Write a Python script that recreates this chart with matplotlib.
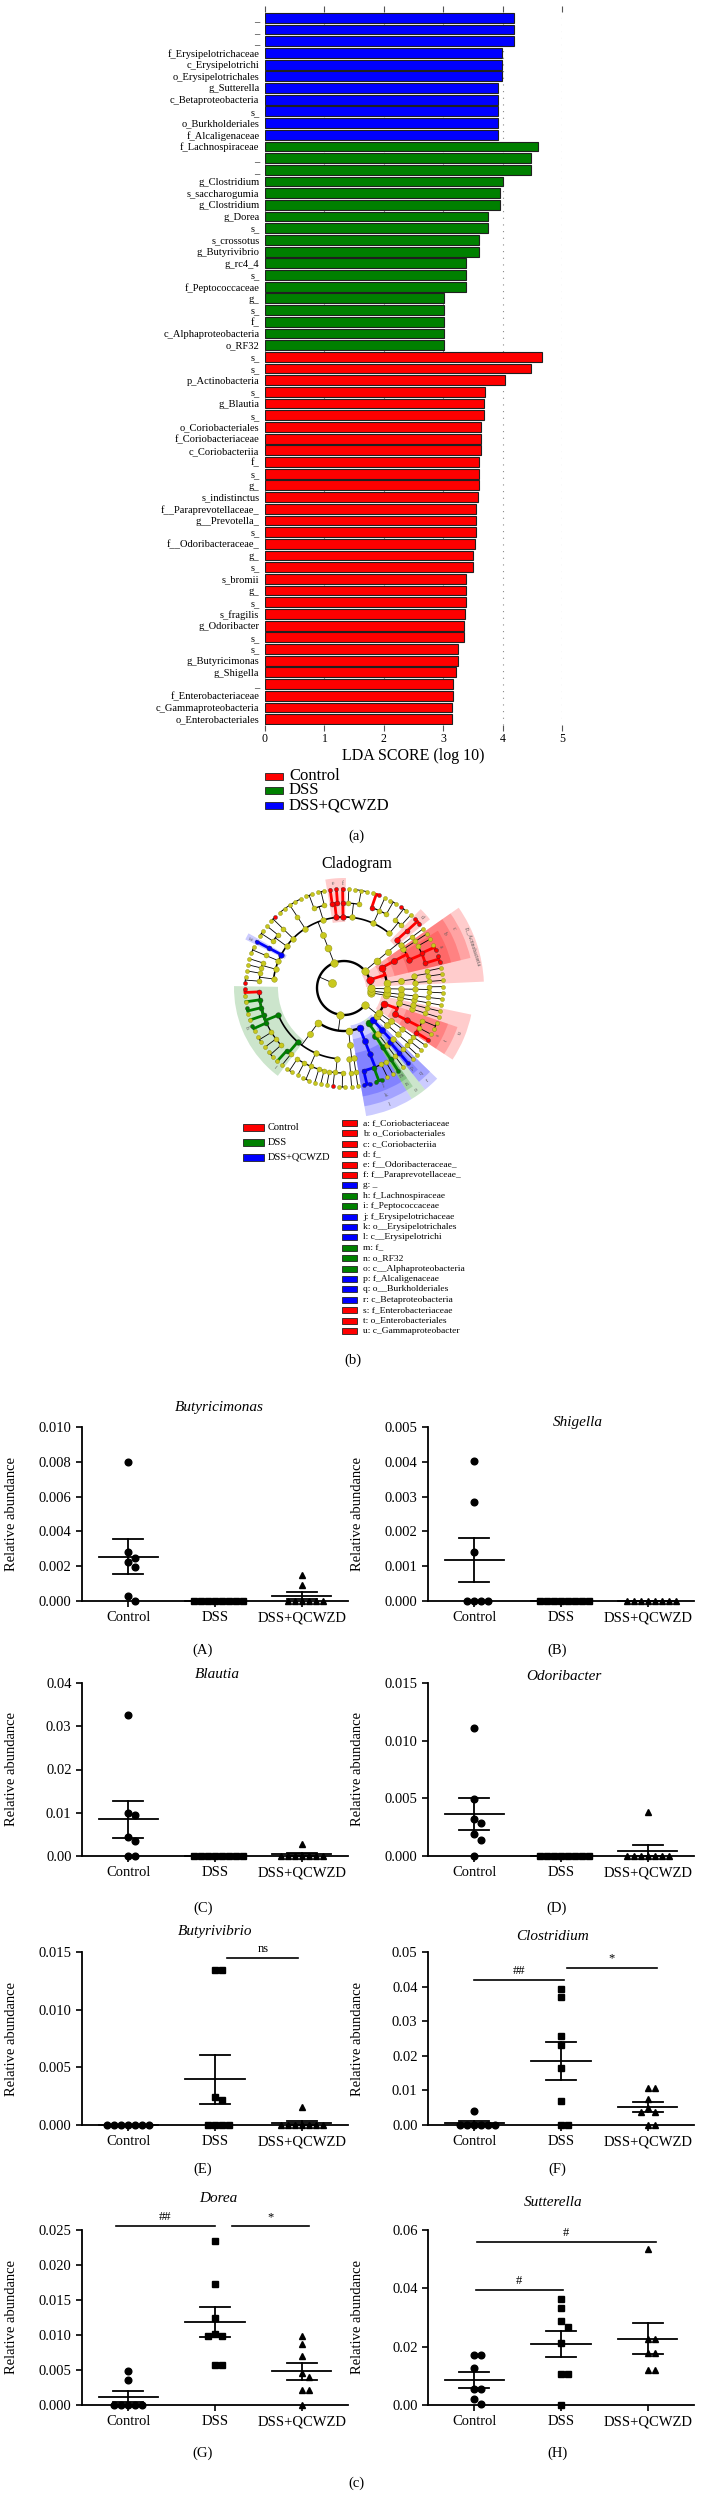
import numpy as np
import matplotlib
matplotlib.use('Agg')
import matplotlib.pyplot as plt
from matplotlib.patches import Rectangle, Wedge

plt.rcParams['font.family'] = ['Liberation Serif', 'DejaVu Serif']

W, H = 711, 2515

group_names = ['Control', 'DSS', 'DSS+QCWZD']
group_colors = ['#ff0000', '#008000', '#0000ff']

# ---- (a) LEfSe LDA scores, top to bottom
lda_labels = ['_', '_', '_', 'f_Erysipelotrichaceae', 'c_Erysipelotrichi', 'o_Erysipelotrichales',
              'g_Sutterella', 'c_Betaproteobacteria', 's_', 'o_Burkholderiales', 'f_Alcaligenaceae',
              'f_Lachnospiraceae', '_', '_', 'g_Clostridium', 's_saccharogumia', 'g_Clostridium',
              'g_Dorea', 's_', 's_crossotus', 'g_Butyrivibrio', 'g_rc4_4', 's_', 'f_Peptococcaceae',
              'g_', 's_', 'f_', 'c_Alphaproteobacteria', 'o_RF32',
              's_', 's_', 'p_Actinobacteria', 's_', 'g_Blautia', 's_', 'o_Coriobacteriales',
              'f_Coriobacteriaceae', 'c_Coriobacteriia', 'f_', 's_', 'g_', 's_indistinctus',
              'f__Paraprevotellaceae_', 'g__Prevotella_', 's_', 'f__Odoribacteraceae_', 'g_', 's_',
              's_bromii', 'g_', 's_', 's_fragilis', 'g_Odoribacter', 's_', 's_', 'g_Butyricimonas',
              'g_Shigella', '_', 'f_Enterobacteriaceae', 'c_Gammaproteobacteria', 'o_Enterobacteriales']
lda_scores = [4.20, 4.20, 4.20, 3.99, 3.99, 3.99, 3.92, 3.92, 3.92, 3.92, 3.92,
              4.60, 4.48, 4.48, 4.01, 3.95, 3.95, 3.75, 3.75, 3.61, 3.61, 3.38, 3.38, 3.38,
              3.02, 3.02, 3.02, 3.02, 3.02,
              4.67, 4.48, 4.04, 3.70, 3.68, 3.68, 3.63, 3.63, 3.63, 3.61, 3.61, 3.61, 3.58,
              3.55, 3.55, 3.55, 3.54, 3.51, 3.51, 3.38, 3.38, 3.38, 3.36, 3.35, 3.35, 3.25,
              3.25, 3.21, 3.17, 3.17, 3.15, 3.15]
lda_group = [2] * 11 + [1] * 18 + [0] * 32

# ---- (b) cladogram: phylum > class > order > family > genus (int = species count)
clado_tree = [
    [[[[1]]]], [[[[1]]]], [[[[1, 1]]]],                                      # minor phyla
    [[[[1], [1, 1]]], [[[2, 2, 1], [1]]]],                                     # Actinobacteria
    [[[[1], [2]]]],                                                           # Tenericutes
    [[[[1, 2], [2, 1, 2], [3, 1], [1], [1, 1], [2, 2], [5], [2], [1, 2], [1],
       [2], [1, 1], [1, 2]]]],                                                # Bacteroidetes
    [[[[2, 1, 2, 1, 2, 2, 1, 2], [1, 1], [2, 1, 2, 1, 1], [1, 1, 2]]],          # Clostridia
     [[[1], [1]]],                                                            # Bacilli
     [[[2, 2, 1, 1]]]],                                                       # Erysipelotrichi
    [[[[1]], [[1]]], [[[1], [1]]], [[[1, 1]]], [[[1]]], [[[1, 1, 2]], [[1], [1]]]],  # Proteobacteria
]
# clade path -> (group, letter, name)
clado_clades = {
    (3,): (0, None, 'p__Actinobacteria'),
    (3, 1, 0, 0): (0, 'a', 'f_Coriobacteriaceae'), (3, 1, 0): (0, 'b', 'o_Coriobacteriales'),
    (3, 1): (0, 'c', 'c_Coriobacteriia'), (4, 0, 0, 1): (0, 'd', 'f_'),
    (5, 0, 0, 4): (0, 'e', 'f__Odoribacteraceae_'), (5, 0, 0, 3): (0, 'f', 'f__Paraprevotellaceae_'),
    (5, 0, 0, 9): (2, 'g', '_'), (6, 0, 0, 0): (1, 'h', 'f_Lachnospiraceae'),
    (6, 0, 0, 1): (1, 'i', 'f_Peptococcaceae'), (6, 2, 0, 0): (2, 'j', 'f_Erysipelotrichaceae'),
    (6, 2, 0): (2, 'k', 'o__Erysipelotrichales'), (6, 2): (2, 'l', 'c__Erysipelotrichi'),
    (7, 0, 0, 0): (1, 'm', 'f_'), (7, 0, 0): (1, 'n', 'o_RF32'), (7, 0): (1, 'o', 'c__Alphaproteobacteria'),
    (7, 1, 0, 0): (2, 'p', 'f_Alcaligenaceae'), (7, 1, 0): (2, 'q', 'o__Burkholderiales'),
    (7, 1): (2, 'r', 'c_Betaproteobacteria'), (7, 4, 0, 0): (0, 's', 'f_Enterobacteriaceae'),
    (7, 4, 0): (0, 't', 'o_Enterobacteriales'), (7, 4): (0, 'u', 'c_Gammaproteobacter'),
}
# further significant genera / species (no shading)
clado_nodes = {
    (3, 1, 0, 0, 0): 0, (3, 1, 0, 0, 0, 0): 0, (3, 1, 0, 0, 0, 1): 0, (3, 1, 0, 0, 1): 0,
    (3, 1, 0, 0, 1, 0): 0, (4, 0, 0, 1, 0): 0, (4, 0, 0, 1, 0, 0): 0, (4, 0, 0, 1, 0, 1): 0,
    (5, 0, 0, 0, 1, 1): 0, (5, 0, 0, 1, 2): 0, (5, 0, 0, 1, 2, 0): 0,
    (5, 0, 0, 3, 0): 0, (5, 0, 0, 3, 0, 0): 0, (5, 0, 0, 4, 0): 0, (5, 0, 0, 4, 0, 0): 0,
    (5, 0, 0, 4, 1): 0, (5, 0, 0, 4, 1, 0): 0, (5, 0, 0, 7, 0, 0): 0, (5, 0, 0, 12, 1, 1): 0,
    (5, 0, 0, 9, 0): 2, (5, 0, 0, 9, 0, 0): 2,
    (6, 0, 0, 0, 0): 0, (6, 0, 0, 0, 0, 0): 0, (6, 0, 0, 0, 1): 1, (6, 0, 0, 0, 2): 1,
    (6, 0, 0, 0, 2, 0): 1, (6, 0, 0, 0, 3): 1, (6, 0, 0, 0, 4): 1, (6, 0, 0, 0, 4, 0): 1,
    (6, 0, 0, 1, 0): 1, (6, 0, 0, 3, 1, 0): 0,
    (6, 2, 0, 0, 0): 2, (6, 2, 0, 0, 0, 0): 2, (6, 2, 0, 0, 0, 1): 2,
    (6, 2, 0, 0, 1): 1, (6, 2, 0, 0, 1, 0): 1, (6, 2, 0, 0, 1, 1): 1,
    (7, 0, 0, 0, 0): 1, (7, 0, 0, 0, 0, 0): 1, (7, 1, 0, 0, 0): 2, (7, 1, 0, 0, 0, 0): 2,
    (7, 4, 0, 0, 0): 0, (7, 4, 0, 0, 0, 0): 0,
}

# ---- (c) relative abundance per group [Control, DSS, DSS+QCWZD]
butyricimonas = [[0.0080, 0.00283, 0.00245, 0.00226, 0.00195, 0.00027, 0.0],
                 [0.0] * 8,
                 [0.0015, 0.0009, 0, 0, 0, 0, 0, 0]]
shigella = [[0.00402, 0.00284, 0.00141, 0, 0, 0, 0],
            [0.0] * 8,
            [0.0] * 8]
blautia = [[0.0326, 0.0099, 0.0094, 0.0044, 0.0034, 0, 0],
           [0.0] * 8,
           [0.0028, 0, 0, 0, 0, 0, 0, 0]]
odoribacter = [[0.0111, 0.00496, 0.0032, 0.00285, 0.0019, 0.00138, 0],
               [0.0] * 8,
               [0.0038, 0, 0, 0, 0, 0, 0, 0]]
butyrivibrio = [[0.0] * 7,
                [0.01346, 0.01346, 0.00245, 0.0022, 0, 0, 0, 0],
                [0.00153, 0, 0, 0, 0, 0, 0, 0]]
clostridium = [[0.0040, 0, 0, 0, 0, 0, 0],
               [0.0392, 0.0370, 0.0258, 0.0232, 0.0164, 0.0069, 0, 0],
               [0.0107, 0.0107, 0.0074, 0.0050, 0.0037, 0.0037, 0, 0]]
dorea = [[0.0049, 0.0036, 0, 0, 0, 0, 0],
         [0.0235, 0.0173, 0.0125, 0.0102, 0.0099, 0.0099, 0.0057, 0.0057],
         [0.0098, 0.0087, 0.0070, 0.0046, 0.0040, 0.0022, 0.0022, 0.0]]
sutterella = [[0.017, 0.017, 0.0126, 0.0054, 0.0054, 0.0019, 0.0005],
              [0.0364, 0.0334, 0.0288, 0.0269, 0.0213, 0.0107, 0.0107, 0.0],
              [0.0535, 0.0228, 0.0228, 0.0179, 0.0179, 0.0121, 0.0121]]

panel_data = [butyricimonas, shigella, blautia, odoribacter, butyrivibrio, clostridium, dorea, sutterella]
panel_titles = ['Butyricimonas', 'Shigella', 'Blautia', 'Odoribacter',
                'Butyrivibrio', 'Clostridium', 'Dorea', 'Sutterella']
panel_letters = ['(A)', '(B)', '(C)', '(D)', '(E)', '(F)', '(G)', '(H)']
panel_ymax = [0.010, 0.005, 0.04, 0.015, 0.015, 0.05, 0.025, 0.06]
panel_ystep = [0.002, 0.001, 0.01, 0.005, 0.005, 0.01, 0.005, 0.02]
panel_decimals = [3, 3, 2, 3, 3, 2, 3, 2]
# significance bars: (from group, to group, height, text)
panel_sig = {4: [(1.14, 1.96, 0.0145, 'ns')],
             5: [(0.0, 1.03, 0.042, '##'), (1.07, 2.1, 0.0455, '*')],
             6: [(-0.14, 1.0, 0.0256, '##'), (1.19, 2.08, 0.0256, '*')],
             7: [(0.03, 2.09, 0.056, '#'), (0.02, 1.02, 0.0394, '#')]}

fig = plt.figure(figsize=(W / 100, H / 100), dpi=100)


def box(x0, x1, y0, y1):
    return [x0 / W, 1 - y1 / H, (x1 - x0) / W, (y1 - y0) / H]


def legend_rows(x, y0, dy, labels, colors, size, pw, ph, gap):
    for i, (lab, col) in enumerate(zip(labels, colors)):
        yc = y0 + i * dy
        fig.add_artist(Rectangle((x / W, 1 - (yc + ph / 2) / H), pw / W, ph / H,
                                 transform=fig.transFigure, facecolor=col,
                                 edgecolor='#222222', linewidth=0.6))
        fig.text((x + pw + gap) / W, 1 - yc / H, lab, fontsize=size, va='center', ha='left')


# ================= (a) LDA bar chart
ax = fig.add_axes(box(265, 562, 12, 725))
ypos = np.arange(len(lda_labels))
ax.barh(ypos, lda_scores, height=0.84, color=[group_colors[g] for g in lda_group],
        edgecolor='#202020', linewidth=0.8, zorder=3)
ax.set_xlim(0, 5)
ax.set_ylim(len(lda_labels) - 0.5, -0.5)
ax.set_yticks(ypos, lda_labels, fontsize=7.6)
ax.tick_params(axis='y', length=0, pad=4)
ax.set_xticks(range(6))
ax.tick_params(axis='x', top=True, bottom=True, direction='out', length=4, width=0.8,
               color='#555555', labelsize=8.5, pad=2)
for s in ax.spines.values():
    s.set_visible(False)
ax.grid(axis='x', linestyle=(0, (1, 5)), color='#888888', linewidth=0.8, zorder=0)
ax.set_xlabel('LDA SCORE (log 10)', fontsize=11.5, labelpad=2)

legend_rows(265, 776, 14.5, group_names, group_colors, 12, 18, 7, 6)
fig.text(356 / W, 1 - 836 / H, '(a)', fontsize=10.5, ha='center', va='center')

# ================= (b) cladogram
R = [13, 27, 43, 57, 71, 85, 99]
node_diam = [8, 7.5, 7, 6.2, 5.6, 5, 4]
arc_lw = [1.7, 1.7, 1.5, 1.2, 0.9, 0.7]


def n_leaves(t):
    return t if isinstance(t, int) else sum(n_leaves(c) for c in t)


step = 360.0 / n_leaves(clado_tree)
start = -10.0
info = {}
children = {}
cnt = [0]


def layout(t, path):
    kids = list(range(t)) if isinstance(t, int) else t
    children[path] = []
    for i, c in enumerate(kids):
        cp = path + (i,)
        if isinstance(t, int):
            a = start + cnt[0] * step
            cnt[0] += 1
            info[cp] = (a, len(cp), a, a)
        else:
            layout(c, cp)
        children[path].append(cp)
    first, last = info[children[path][0]], info[children[path][-1]]
    info[path] = ((first[0] + last[0]) / 2, len(path), first[2], last[3])


layout(clado_tree, ())


def pol(r, a):
    return r * np.cos(np.radians(a)), r * np.sin(np.radians(a))


def node_group(p):
    if p in clado_clades:
        return clado_clades[p][0]
    return clado_nodes.get(p)


def arc(axx, r, a1, a2, **kw):
    th = np.radians(np.linspace(a1, a2, max(2, int(abs(a2 - a1)) + 2)))
    axx.plot(r * np.cos(th), r * np.sin(th), solid_capstyle='butt', **kw)


cx = fig.add_axes(box(184, 504, 828, 1148))
cx.set_xlim(-160, 160)
cx.set_ylim(-160, 160)
cx.axis('off')

for p, (g, let, name) in clado_clades.items():
    a, d, lo, hi = info[p]
    r_out = 110 + (4 - d) * 10
    r_in = R[d] - 5
    cx.add_patch(Wedge((0, 0), r_out, lo - step / 2, hi + step / 2, width=r_out - r_in,
                       facecolor=group_colors[g], alpha=0.2, linewidth=0, zorder=1))
    rot = (a - 90 + 90) % 180 - 90
    tx, ty = pol(r_out - 5, a)
    cx.text(tx, ty, let if let else name, fontsize=4, rotation=rot, ha='center', va='center',
            rotation_mode='anchor', color='#555555', zorder=2)

for p, kids in children.items():
    a, d = info[p][0], info[p][1]
    gp = node_group(p)
    ang = [info[c][0] for c in kids]
    arc(cx, R[d + 1], min(ang), max(ang), color='k', lw=arc_lw[d], zorder=3)
    x1, y1 = pol(R[d], a)
    x2, y2 = pol(R[d + 1], a)
    cx.plot([x1, x2], [y1, y2], color='k' if gp is None else group_colors[gp],
            lw=0.6 if gp is None else 2.0, zorder=3 if gp is None else 4)
    if gp is not None:
        for c in kids:
            if node_group(c) == gp:
                arc(cx, R[d + 1], a, info[c][0], color=group_colors[gp], lw=2.0, zorder=4)

for p, (a, d, lo, hi) in info.items():
    g = node_group(p)
    x, y = pol(R[d], a)
    fc = '#c8c81e' if g is None else group_colors[g]
    ec = '#8a8a10' if g is None else '#333333'
    cx.scatter([x], [y], s=(node_diam[d] * 0.72) ** 2, facecolor=fc, edgecolor=ec,
               linewidth=0.3, zorder=5)

fig.text(357 / W, 1 - 864 / H, 'Cladogram', fontsize=11.5, ha='center', va='center')

legend_rows(243, 1127, 15, group_names, group_colors, 7.5, 21, 7, 4)
letter_items = sorted((v[1], v[2], v[0]) for v in clado_clades.values() if v[1])
legend_rows(342, 1123, 10.4, [f'{l}: {n}' for l, n, g in letter_items],
            [group_colors[g] for l, n, g in letter_items], 6.8, 15, 6, 6)
fig.text(353 / W, 1 - 1360 / H, '(b)', fontsize=10.5, ha='center', va='center')

# ================= (c) scatter panels
col_x = [(82, 348), (428, 694)]
row_y = [(1427, 1601), (1683, 1856), (1952, 2125), (2230, 2405)]
title_pos = [(219, 1408), (578, 1422), (217, 1674), (564, 1677),
             (215, 1932), (553, 1937), (218, 2199), (553, 2203)]
letter_x = [203, 557]
letter_y = [1650, 1908, 2169, 2453]
markers = ['o', 's', '^']
XL = (-0.53, 2.53)


def swarm(vals, ppu, d=7.0):
    vals = np.asarray(vals, float)
    ys = vals * ppu
    xs = np.zeros(len(vals))
    done = []
    for i in np.argsort(-vals, kind='stable'):
        for k in range(60):
            cand = ((k + 1) // 2) * d * (1 if k % 2 else -1) if k else 0.0
            if all(np.hypot(cand - xs[j], ys[i] - ys[j]) >= d * 0.95 for j in done):
                xs[i] = cand
                break
        done.append(i)
    return xs


for k in range(8):
    r, c = divmod(k, 2)
    x0, x1 = col_x[c]
    y0, y1 = row_y[r]
    ax = fig.add_axes(box(x0, x1, y0, y1))
    ymax = panel_ymax[k]
    ppu_y = (y1 - y0) / ymax
    ppu_x = (x1 - x0) / (XL[1] - XL[0])
    for g, v in enumerate(panel_data[k]):
        off = swarm(v, ppu_y) / ppu_x
        ax.plot(g + off, v, marker=markers[g], ls='none', color='k', ms=4.8,
                clip_on=False, zorder=4)
        m = np.mean(v)
        se = np.std(v, ddof=1) / np.sqrt(len(v))
        ax.plot([g - 0.34, g + 0.34], [m, m], color='k', lw=1.3, zorder=3, clip_on=False)
        ax.plot([g, g], [m - se, m + se], color='k', lw=1.3, zorder=3, clip_on=False)
        for yy in (m - se, m + se):
            ax.plot([g - 0.17, g + 0.17], [yy, yy], color='k', lw=1.3, zorder=3, clip_on=False)
    for xa, xb, yy, txt in panel_sig.get(k, []):
        ax.plot([xa, xb], [yy, yy], color='k', lw=1.2, clip_on=False)
        ax.annotate(txt, ((xa + xb) / 2, yy), xytext=(0, 2), textcoords='offset points',
                    ha='center', va='bottom', fontsize=9, annotation_clip=False)
    ax.set_xlim(*XL)
    ax.set_ylim(0, ymax)
    ticks = np.arange(0, ymax + panel_ystep[k] / 2, panel_ystep[k])
    ax.set_yticks(ticks, [f'{t:.{panel_decimals[k]}f}' for t in ticks])
    ax.set_xticks([0, 1, 2], group_names)
    ax.tick_params(labelsize=10.5, width=1.2, length=4)
    ax.spines['top'].set_visible(False)
    ax.spines['right'].set_visible(False)
    ax.spines['left'].set_linewidth(1.3)
    ax.spines['bottom'].set_linewidth(1.3)
    ax.set_ylabel('Relative abundance', fontsize=10.5)
    ax.yaxis.set_label_coords(-0.24, 0.5)
    tx, ty = title_pos[k]
    fig.text(tx / W, 1 - ty / H, panel_titles[k], fontsize=11, style='italic',
             ha='center', va='center')
    fig.text(letter_x[c] / W, 1 - letter_y[r] / H, panel_letters[k], fontsize=10.5,
             ha='center', va='center')

fig.text(356 / W, 1 - 2483 / H, '(c)', fontsize=10.5, ha='center', va='center')

fig.savefig('out.png', dpi=100)
